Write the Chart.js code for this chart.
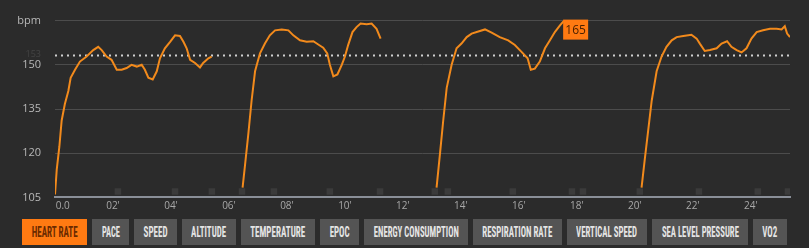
<!DOCTYPE html>
<html>
<head>
<meta charset="utf-8">
<script src="https://cdn.jsdelivr.net/npm/chart.js@4.4.0/dist/chart.umd.min.js"></script>
<style>
	html, body { margin: 0; padding: 0; background: #2b2b2b; width: 809px; height: 248px; overflow: hidden; }
	.chart-wrap { position: absolute; left: 0; top: 0; width: 809px; height: 218px; }
	.tabs { position: absolute; left: 22px; top: 219px; height: 26px; display: flex; gap: 5px; }
	.tab { height: 26px; background: #545454; color: #e4e4e4; display: flex; align-items: center; justify-content: center; overflow: hidden;
		font-family: "Liberation Sans Narrow", "Roboto Condensed", "DejaVu Sans Condensed", sans-serif; font-weight: bold; font-size: 14px; }
	.tab.active { background: #ff7a12; color: #6a2a00; }
	.tab span { display: inline-block; white-space: nowrap; transform-origin: center; }
</style>
</head>
<body>
<div class="chart-wrap"><canvas id="hrChart"></canvas></div>
<div class="tabs" id="tabs"></div>
<script>
// 심박수 데이터 (분 단위), null = 기록 끊김
const minutes = [
	0, 0.06, 0.15, 0.23, 0.34, 0.46, 0.54, 0.69, 0.86, 1.09, 1.32, 1.49, 1.61, 1.78, 1.95, 2.13, 2.3, 2.47, 2.64, 2.82, 2.99,
	3.1, 3.22, 3.37, 3.51, 3.62, 3.79, 3.97, 4.14, 4.31, 4.43, 4.54, 4.66, 4.83, 5.0, 5.11, 5.29, 5.4,
	5.9,
	6.47, 6.55, 6.67, 6.78, 6.9, 7.07, 7.24, 7.41, 7.59, 7.82, 8.05, 8.22, 8.45, 8.68, 8.91, 9.08, 9.25, 9.39, 9.48, 9.6,
	9.74, 9.89, 10.0, 10.11, 10.26, 10.4, 10.54, 10.75, 10.92, 11.09, 11.23,
	12.2,
	13.16, 13.28, 13.39, 13.51, 13.68, 13.85, 14.02, 14.2, 14.37, 14.6, 14.83, 15.06, 15.34, 15.63, 15.86, 16.09, 16.3,
	16.41, 16.55, 16.72, 16.9, 17.07, 17.24, 17.41, 17.56,
	19.0,
	20.23, 20.34, 20.46, 20.58, 20.75, 20.92, 21.09, 21.27, 21.44, 21.67, 21.95, 22.13, 22.24, 22.41, 22.59, 22.82, 22.99,
	23.18, 23.33, 23.51, 23.68, 23.85, 24.02, 24.2, 24.42, 24.66, 24.89, 25.06, 25.17, 25.25, 25.35
];
const heartRate = [
	106, 114.4, 122.2, 131.1, 136.7, 141.1, 145.6, 148.3, 151.1, 152.8, 155, 156.1, 155, 152.8, 151.7, 148.3, 148.3, 148.9, 150, 149.4, 150,
	148.3, 145.6, 145, 147.8, 152.2, 155.6, 157.8, 160, 159.8, 157.8, 155.6, 151.7, 150.6, 149.1, 150.6, 152.2, 152.8,
	null,
	108.3, 115.6, 126.7, 137.8, 147.8, 153.9, 157.2, 160, 161.7, 162, 161.7, 160, 158.3, 157.8, 158, 156.9, 155.8, 153.9, 150, 146.1,
	146.7, 150, 152.8, 156.7, 161.1, 162.8, 164, 163.8, 164, 162.2, 158.9,
	null,
	108.3, 120, 131.1, 142.2, 150, 155.6, 157.2, 159.4, 160.6, 161.3, 162, 160.9, 159.4, 158.3, 156.7, 154.4, 152.2,
	148.3, 148.7, 151.1, 155.6, 158.3, 161.1, 163.3, 165,
	null,
	108.3, 117.8, 127.8, 137.8, 147.8, 152.8, 156.1, 158.3, 159.4, 159.8, 160.2, 158.9, 157.2, 154.7, 155, 155.6, 157.2,
	158, 156.1, 155, 154.2, 155.6, 158.9, 161.1, 161.7, 162.2, 162.2, 162, 163.1, 160.6, 159.4
];
const lapMinutes = [2.17, 4.14, 5.41, 6.45, 7.55, 9.48, 11.21, 13.1, 13.55, 15.79, 17.83, 18.21, 20.17, 22.21, 24.24, 25.28];
const lapLevel = 107;
const avgHr = 153.3;
const yTicks = [105, 120, 135, 150, 165];
const xMax = 25.35;
const metrics = ['HEART RATE', 'PACE', 'SPEED', 'ALTITUDE', 'TEMPERATURE', 'EPOC', 'ENERGY CONSUMPTION', 'RESPIRATION RATE', 'VERTICAL SPEED', 'SEA LEVEL PRESSURE', 'VO2'];

const tabWidths = [65, 37, 43, 54, 74, 39, 104, 89, 80, 96, 34];
const ORANGE = '#f28a1c';

function buildTabs() {
	const box = document.getElementById('tabs');
	metrics.forEach((name, i) => {
		const el = document.createElement('div');
		el.className = 'tab' + (i === 0 ? ' active' : '');
		el.style.width = tabWidths[i] + 'px';
		const span = document.createElement('span');
		span.textContent = name;
		el.appendChild(span);
		box.appendChild(el);
		// 글자 폭을 버튼에 맞춰 좁힘
		const w = span.getBoundingClientRect().width;
		const target = tabWidths[i] - 19;
		span.style.transform = 'scaleX(' + (target / w) + ')';
	});
}

const overlayPlugin = {
	id: 'overlay',
	beforeDatasetsDraw(chart) {
		const { ctx, chartArea, scales } = chart;
		const y = Math.round(scales.y.getPixelForValue(avgHr)) + 0.5;
		ctx.save();
		ctx.strokeStyle = '#d0d0d0';
		ctx.lineWidth = 2;
		ctx.setLineDash([2, 4]);
		ctx.beginPath();
		ctx.moveTo(chartArea.left, y);
		ctx.lineTo(chartArea.right, y);
		ctx.stroke();
		ctx.setLineDash([]);
		ctx.fillStyle = '#444444';
		ctx.font = '9px "Open Sans", sans-serif';
		ctx.textAlign = 'right';
		ctx.textBaseline = 'middle';
		ctx.fillText(String(Math.round(avgHr)), 41, y - 1);
		ctx.restore();
	},
	afterDatasetsDraw(chart) {
		const { ctx, scales } = chart;
		let best = -1;
		heartRate.forEach((v, i) => { if (v !== null && (best < 0 || v > heartRate[best])) best = i; });
		const px = scales.x.getPixelForValue(minutes[best]);
		const py = scales.y.getPixelForValue(heartRate[best]);
		ctx.save();
		ctx.fillStyle = '#ff7a12';
		ctx.fillRect(px - 1, py - 1, 25, 20);
		ctx.fillStyle = '#4a2000';
		ctx.font = '12px "Open Sans", sans-serif';
		ctx.textAlign = 'center';
		ctx.textBaseline = 'middle';
		ctx.fillText(String(Math.round(heartRate[best])), px + 11.5, py + 9.5);
		ctx.restore();
	}
};

function renderHeartRateChart(canvasId) {
	const ctx = document.getElementById(canvasId);
	new Chart(ctx, {
		type: 'line',
		data: {
			datasets: [
				{
					data: minutes.map((m, i) => ({ x: m, y: heartRate[i] })),
					borderColor: ORANGE,
					borderWidth: 2,
					pointRadius: 0,
					tension: 0,
					spanGaps: false,
					order: 1
				},
				{
					type: 'scatter',
					data: lapMinutes.map(m => ({ x: m, y: lapLevel })),
					pointStyle: 'rect',
					pointRadius: 4.6,
					backgroundColor: '#3b3b3b',
					borderWidth: 0,
					order: 2
				}
			]
		},
		options: {
			responsive: true,
			maintainAspectRatio: false,
			animation: false,
			layout: { padding: { top: 20, right: 19, left: 0, bottom: 0 } },
			plugins: { legend: { display: false }, tooltip: { enabled: false } },
			scales: {
				x: {
					type: 'linear',
					min: 0,
					max: xMax,
					afterFit: s => { s.height = 17; },
					border: { display: true, color: '#8a8f98', width: 2 },
					grid: { display: false, drawTicks: false },
					ticks: {
						stepSize: 2,
						includeBounds: false,
						padding: 3,
						maxRotation: 0,
						color: '#a8a8a8',
						font: { family: '"Open Sans", sans-serif', size: 10 },
						// 첫 라벨은 축 안쪽으로 살짝 밀어줌
						callback: v => v === 0 ? '      0.0' : String(v).padStart(2, '0') + "'"
					}
				},
				y: {
					min: yTicks[0],
					max: yTicks[yTicks.length - 1],
					afterFit: s => { s.width = 55; },
					afterBuildTicks: s => { s.ticks = yTicks.map(v => ({ value: v })); },
					border: { display: false },
					grid: { color: '#4c4c4c', lineWidth: 1, drawTicks: false },
					ticks: {
						padding: 14,
						color: '#b8b8b8',
						font: { family: '"Open Sans", sans-serif', size: 11 },
						callback: v => v === yTicks[yTicks.length - 1] ? 'bpm' : String(v)
					}
				}
			}
		},
		plugins: [overlayPlugin]
	});
}

window.onload = () => {
	buildTabs();
	renderHeartRateChart('hrChart');
};
</script>
</body>
</html>
